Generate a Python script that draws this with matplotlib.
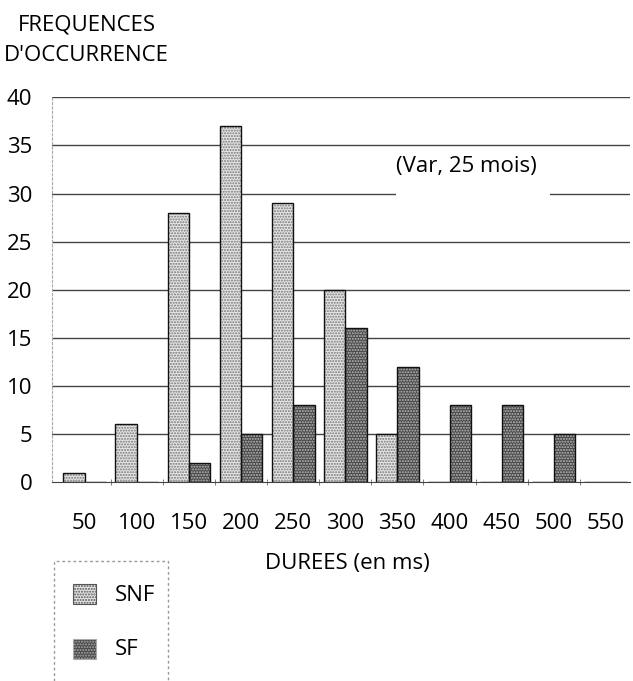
import matplotlib.pyplot as plt
import numpy as np
from matplotlib.patches import Rectangle

plt.rcParams['font.family'] = ['Open Sans', 'DejaVu Sans']

durees = ['50', '100', '150', '200', '250', '300', '350', '400', '450', '500', '550']
snf = [1, 6, 28, 37, 29, 20, 5, 0, 0, 0, 0]
sf = [0, 0, 2, 5, 8, 16, 12, 8, 8, 5, 0]
yticks = [0, 5, 10, 15, 20, 25, 30, 35, 40]

x = np.arange(len(durees))
w = 0.41

fig = plt.figure(figsize=(6.33, 6.81), dpi=100)
ax = fig.add_axes([0.082, 0.292, 0.913, 0.565])

# grid lines (behind the bars)
for y in yticks[1:]:
    ax.axhline(y, color='#444444', lw=1.0, zorder=0)
# the 30 line is broken under the annotation
ax.axhspan(29.6, 30.4, xmin=0.595, xmax=0.862, color='white', lw=0, zorder=1)

# SNF: light stipple, SF: dark stipple
ax.bar(x - w / 2, snf, w, color='#e6e6e6', edgecolor='#777777', hatch='......', lw=0, zorder=2)
ax.bar(x - w / 2, snf, w, facecolor='none', edgecolor='#111111', lw=1.0, zorder=3)
ax.bar(x + w / 2, sf, w, color='#474747', edgecolor='#bbbbbb', hatch='......', lw=0, zorder=2)
ax.bar(x + w / 2, sf, w, facecolor='none', edgecolor='#111111', lw=1.0, zorder=3)

ax.set_xlim(-0.63, 10.46)
ax.set_ylim(0, 40)

ax.set_yticks(yticks)
ax.tick_params(axis='y', length=0, pad=14, labelsize=16)
ax.set_xticks(x)
ax.set_xticklabels(durees)
ax.tick_params(axis='x', length=0, pad=22, labelsize=16)
ax.set_xticks(np.arange(len(durees) - 1) + 0.5, minor=True)
ax.tick_params(axis='x', which='minor', length=4, direction='inout', color='#666666')

for s in ['top', 'right']:
    ax.spines[s].set_visible(False)
ax.spines['left'].set_color('#aaaaaa')
ax.spines['left'].set_linestyle((0, (2, 2)))
ax.spines['bottom'].set_color('#444444')

ax.text(0.718, 0.82, '(Var, 25 mois)', transform=ax.transAxes, ha='center', va='center',
        fontsize=16, zorder=4)

fig.text(0.137, 0.963, 'FREQUENCES', fontsize=16, ha='center', va='center')
fig.text(0.137, 0.918, "D'OCCURRENCE", fontsize=16, ha='center', va='center')
fig.text(0.548, 0.173, 'DUREES (en ms)', fontsize=16, ha='center', va='center')

# legend box
fig.patches.append(Rectangle((0.086, -0.01), 0.179, 0.186, transform=fig.transFigure,
                             facecolor='white', edgecolor='#999999', lw=1.0,
                             linestyle=(0, (2, 2))))
fig.patches.append(Rectangle((0.116, 0.113), 0.036, 0.030, transform=fig.transFigure,
                             facecolor='#e6e6e6', edgecolor='#555555', hatch='......', lw=0.8))
fig.patches.append(Rectangle((0.116, 0.032), 0.036, 0.030, transform=fig.transFigure,
                             facecolor='#474747', edgecolor='#aaaaaa', hatch='......', lw=0.8))
fig.text(0.182, 0.126, 'SNF', fontsize=16, ha='left', va='center')
fig.text(0.182, 0.046, 'SF', fontsize=16, ha='left', va='center')

fig.savefig('out.png', dpi=100)
